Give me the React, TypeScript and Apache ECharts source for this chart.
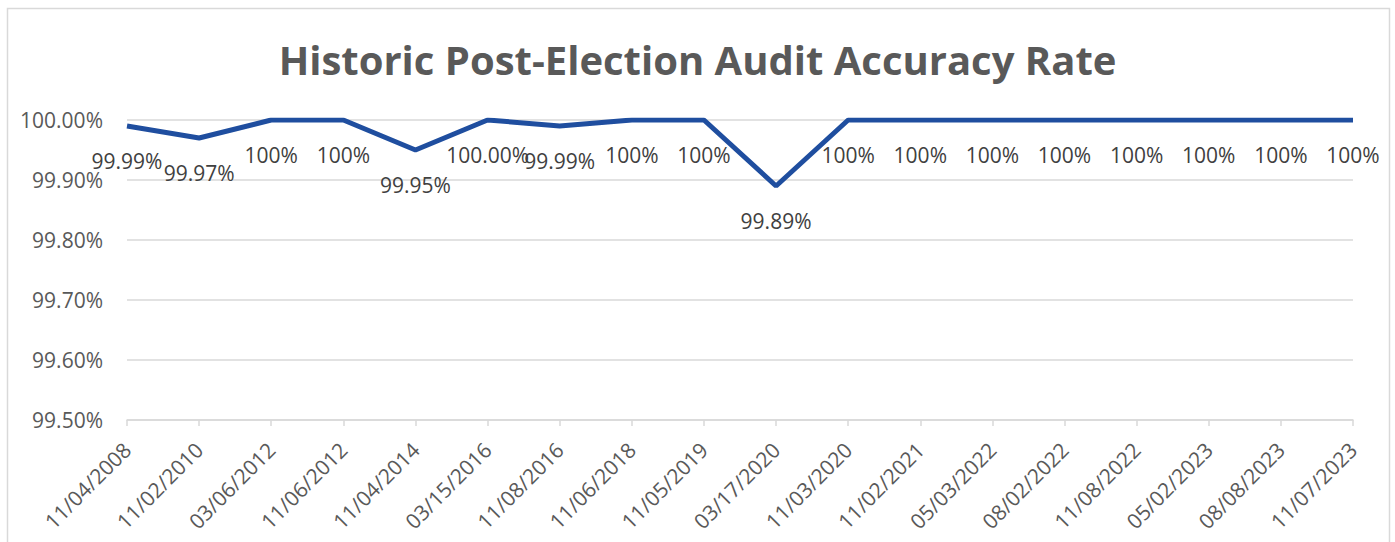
import React, { useEffect, useRef } from "react";
import * as echarts from "echarts";

const titleText = "Historic Post-Election Audit Accuracy Rate";
const categories = [
  "11/04/2008", "11/02/2010", "03/06/2012", "11/06/2012", "11/04/2014", "03/15/2016",
  "11/08/2016", "11/06/2018", "11/05/2019", "03/17/2020", "11/03/2020", "11/02/2021",
  "05/03/2022", "08/02/2022", "11/08/2022", "05/02/2023", "08/08/2023", "11/07/2023",
];
const accuracy = [
  99.99, 99.97, 100, 100, 99.95, 100, 99.99, 100, 100, 99.89, 100, 100, 100, 100, 100, 100, 100, 100,
];
const dataLabels = [
  "99.99%", "99.97%", "100%", "100%", "99.95%", "100.00%", "99.99%", "100%", "100%", "99.89%",
  "100%", "100%", "100%", "100%", "100%", "100%", "100%", "100%",
];
const yMin = 99.5;
const yMax = 100;
const yInterval = 0.1;

export default function App() {
  const ref = useRef<HTMLDivElement>(null);
  useEffect(() => {
    if (!ref.current) return;
    const chart = echarts.init(ref.current, undefined, { renderer: "svg" });
    const font = "'Open Sans', 'Noto Sans', sans-serif";
    chart.setOption({
      animation: false,
      backgroundColor: "#ffffff",
      title: {
        text: titleText,
        left: "center",
        top: 34,
        textStyle: { fontFamily: font, fontSize: 40, fontWeight: "bold", color: "#595959" },
      },
      graphic: [
        {
          type: "rect",
          shape: { x: 7.5, y: 8.5, width: 1382, height: 560 },
          style: { fill: "none", stroke: "#d9d9d9", lineWidth: 1.5 },
          silent: true,
        },
      ],
      grid: { left: 127, right: 42, top: 120, bottom: 122, containLabel: false },
      xAxis: {
        type: "category",
        data: categories,
        boundaryGap: false,
        axisLine: { lineStyle: { color: "#d9d9d9", width: 1.5 } },
        axisTick: { show: true, length: 6, lineStyle: { color: "#d9d9d9", width: 1.5 } },
        axisLabel: {
          rotate: 45,
          interval: 0,
          fontFamily: font,
          fontSize: 21,
          color: "#595959",
          margin: 26,
        },
      },
      yAxis: {
        type: "value",
        min: yMin,
        max: yMax,
        interval: yInterval,
        axisLine: { show: false },
        axisTick: { show: false },
        splitLine: { lineStyle: { color: "#d9d9d9", width: 1.5 } },
        axisLabel: {
          fontFamily: font,
          fontSize: 21,
          color: "#595959",
          margin: 24,
          formatter: (v: number) => v.toFixed(2) + "%",
        },
      },
      series: [
        {
          type: "line",
          data: accuracy,
          symbol: "circle",
          symbolSize: 0,
          showSymbol: true,
          lineStyle: { color: "#1f4e9f", width: 5 },
          itemStyle: { color: "#1f4e9f" },
          labelLayout: { hideOverlap: false },
          label: {
            show: true,
            position: "bottom",
            distance: 24,
            fontFamily: font,
            fontSize: 21,
            color: "#404040",
            formatter: (p: any) => dataLabels[p.dataIndex],
          },
        },
      ],
    });
    return () => chart.dispose();
  }, []);
  return (
    <div
      ref={ref}
      style={{ position: "fixed", left: 0, top: 0, width: 1395, height: 542 }}
    />
  );
}
